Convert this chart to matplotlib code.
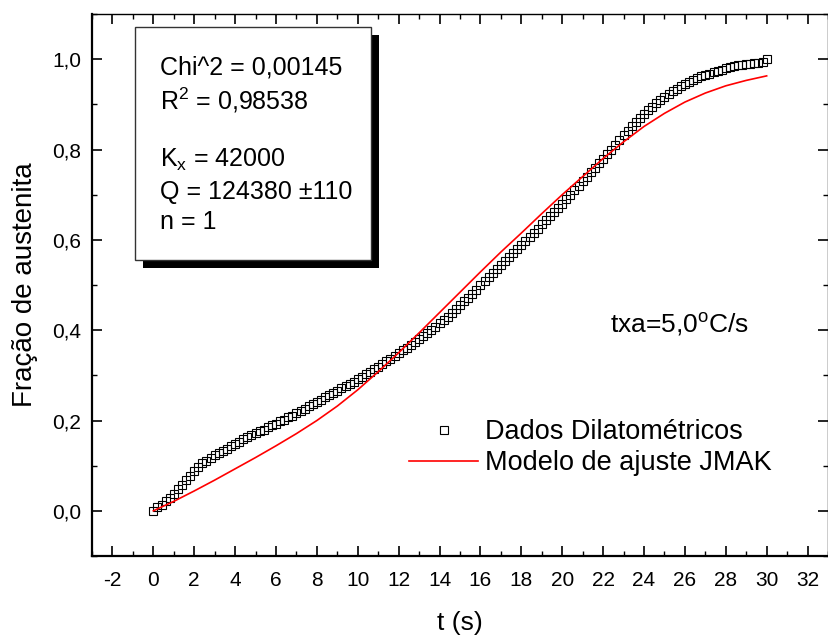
import matplotlib
matplotlib.use("Agg")
import matplotlib.pyplot as plt
from matplotlib.patches import Rectangle
from matplotlib.lines import Line2D
import numpy as np

plt.rcParams['font.family'] = ['Liberation Sans', 'DejaVu Sans']
plt.rcParams['mathtext.fontset'] = 'custom'
plt.rcParams['mathtext.rm'] = 'Liberation Sans'
plt.rcParams['mathtext.it'] = 'Liberation Sans'
plt.rcParams['mathtext.default'] = 'rm'

# ---- data ----
t_data = [round(0.2 * i, 1) for i in range(151)]
frac_data = [
    0.000, 0.008, 0.014, 0.021, 0.029, 0.038, 0.048, 0.058, 0.068, 0.078,
    0.088, 0.097, 0.105, 0.111, 0.117, 0.123, 0.128, 0.133, 0.138, 0.143,
    0.148, 0.153, 0.158, 0.163, 0.167, 0.172, 0.176, 0.180, 0.185, 0.189,
    0.193, 0.198, 0.202, 0.207, 0.211, 0.216, 0.221, 0.226, 0.231, 0.236,
    0.241, 0.246, 0.251, 0.256, 0.261, 0.266, 0.271, 0.276, 0.281, 0.286,
    0.291, 0.296, 0.302, 0.307, 0.313, 0.319, 0.325, 0.331, 0.337, 0.343,
    0.349, 0.355, 0.361, 0.367, 0.373, 0.380, 0.387, 0.394, 0.401, 0.408,
    0.415, 0.422, 0.430, 0.438, 0.447, 0.455, 0.464, 0.472, 0.481, 0.490,
    0.499, 0.508, 0.517, 0.526, 0.535, 0.544, 0.553, 0.562, 0.571, 0.580,
    0.589, 0.598, 0.607, 0.616, 0.625, 0.634, 0.643, 0.652, 0.661, 0.671,
    0.680, 0.690, 0.700, 0.710, 0.720, 0.730, 0.740, 0.750, 0.760, 0.770,
    0.780, 0.790, 0.800, 0.810, 0.820, 0.831, 0.841, 0.851, 0.860, 0.869,
    0.878, 0.887, 0.895, 0.903, 0.910, 0.917, 0.923, 0.929, 0.935, 0.940,
    0.945, 0.950, 0.954, 0.958, 0.962, 0.965, 0.968, 0.971, 0.974, 0.977,
    0.980, 0.982, 0.984, 0.986, 0.988, 0.989, 0.990, 0.991, 0.992, 0.993,
    1.000,
]

t_fit = list(range(0, 31))
frac_fit = [
    0.000, 0.021, 0.044, 0.068, 0.093, 0.118, 0.144, 0.171, 0.200, 0.232,
    0.268, 0.308, 0.350, 0.394, 0.439, 0.484, 0.529, 0.573, 0.615, 0.658,
    0.700, 0.740, 0.780, 0.817, 0.851, 0.880, 0.905, 0.925, 0.941, 0.953,
    0.963,
]

x_ticks = list(range(-2, 33, 2))
x_ticklabels = [str(v) for v in x_ticks]
y_ticks = [0.0, 0.2, 0.4, 0.6, 0.8, 1.0]
y_ticklabels = ["0,0", "0,2", "0,4", "0,6", "0,8", "1,0"]

box_lines = ["Chi^2 = 0,00145", "R$^2$ = 0,98538", "",
             "K$_x$ = 42000", "Q = 124380 \u00b1110", "n = 1"]

W, H = 829, 637
fig = plt.figure(figsize=(W / 100, H / 100), dpi=100)
ax = fig.add_axes([92 / W, 1 - 556 / H, (828 - 92) / W, (556 - 14) / H])

ax.plot(t_data, frac_data, linestyle='none', marker='s', ms=6,
        mfc='none', mec='black', mew=0.8, zorder=3)
ax.plot(t_fit, frac_fit, color='red', lw=1.2, zorder=4)

ax.set_xlim(-3, 33)
ax.set_ylim(-0.1, 1.1)
ax.set_xticks(x_ticks)
ax.set_xticklabels(x_ticklabels)
ax.set_xticks(np.arange(-3, 34, 2), minor=True)
ax.set_yticks(y_ticks)
ax.set_yticklabels(y_ticklabels)
ax.set_yticks(np.arange(-0.1, 1.11, 0.2), minor=True)

ax.tick_params(axis='both', which='major', direction='in', length=7,
               width=1.2, labelsize=15)
ax.tick_params(axis='both', which='minor', direction='in', length=3.5,
               width=1.0)
ax.tick_params(axis='x', which='major', pad=11)
ax.tick_params(axis='y', which='major', pad=8)
ax.tick_params(which='both', top=True, right=True)
ax.tick_params(axis='x', which='both', top=True, labeltop=False)
for side in ['left', 'bottom']:
    ax.spines[side].set_linewidth(1.6)
for side in ['top', 'right']:
    ax.spines[side].set_linewidth(1.0)

ax.set_xlabel("t (s)", fontsize=19, labelpad=15)
ax.set_ylabel("Fra\u00e7\u00e3o de austenita", fontsize=20, labelpad=10)

# text box with shadow
def px_rect(x0, y0, x1, y1, **kw):
    return Rectangle((x0 / W, 1 - y1 / H), (x1 - x0) / W, (y1 - y0) / H,
                     transform=fig.transFigure, **kw)

fig.add_artist(px_rect(143, 35, 379, 268, facecolor='black', edgecolor='none', zorder=5))
fig.add_artist(px_rect(135, 27, 371, 260, facecolor='white', edgecolor='#333333',
                       lw=1.0, zorder=6))
y_pos = [67, 100, 130, 160, 192, 222]
for s, yp in zip(box_lines, y_pos):
    if s:
        fig.text(160 / W, 1 - yp / H, s, fontsize=18, va='center', ha='left', zorder=7)

fig.text(610 / W, 1 - 325 / H, "txa=5,0$^{\\rm o}$C/s", fontsize=19,
         va='center', ha='left')

handles = [Line2D([], [], linestyle='none', marker='s', ms=6, mfc='none',
                  mec='black', mew=0.8),
           Line2D([], [], color='red', lw=1.2)]
ax.legend(handles, ["Dados Dilatom\u00e9tricos", "Modelo de ajuste JMAK"],
          loc='upper left', bbox_to_anchor=(409 / W, 1 - 419 / H),
          bbox_transform=fig.transFigure, frameon=False, fontsize=19.5,
          handlelength=2.55, handletextpad=0.26, borderpad=0, borderaxespad=0,
          labelspacing=0.2)

fig.savefig("out.png", dpi=100)
